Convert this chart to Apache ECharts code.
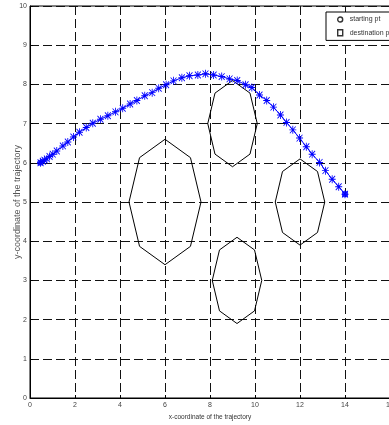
<!DOCTYPE html>
<html>
<head>
<meta charset="utf-8">
<script src="https://cdn.jsdelivr.net/npm/echarts@6/dist/echarts.min.js"></script>
<style>
  html, body { margin: 0; padding: 0; background: #fff; }
  #chart { width: 389px; height: 425px; }
</style>
</head>
<body>
<div id="chart"></div>
<script>
// Planned trajectory samples
const trajX = [0.47, 0.57, 0.64, 0.75, 0.87, 1.01, 1.19, 1.46, 1.68, 1.93,
  2.20, 2.50, 2.79, 3.13, 3.46, 3.80, 4.12, 4.45, 4.75, 5.10,
  5.43, 5.72, 6.05, 6.38, 6.75, 7.09, 7.46, 7.80, 8.16, 8.52,
  8.87, 9.21, 9.58, 9.86, 10.20, 10.52, 10.82, 11.13, 11.40, 11.68,
  11.98, 12.28, 12.54, 12.87, 13.13, 13.43, 13.72, 14.00];
const trajY = [6.00, 6.04, 6.07, 6.10, 6.16, 6.22, 6.30, 6.43, 6.53, 6.66,
  6.78, 6.90, 7.01, 7.11, 7.20, 7.30, 7.39, 7.50, 7.59, 7.71,
  7.79, 7.90, 7.99, 8.09, 8.17, 8.22, 8.24, 8.27, 8.24, 8.20,
  8.14, 8.10, 7.99, 7.92, 7.73, 7.59, 7.42, 7.22, 7.03, 6.84,
  6.63, 6.41, 6.22, 6.01, 5.80, 5.58, 5.39, 5.20];

// Start / goal points
const startPt = [0.45, 6.0];
const goalPt = [14.0, 5.2];

// Circular obstacles (drawn as 8-sided outlines)
const obsCX = [6, 9, 12, 9.2];
const obsCY = [5, 7, 5, 3];
const obsR = [1.6, 1.1, 1.1, 1.1];
const obsSides = 8;

// Axis ticks
const xTicks = { min: 0, max: 16, step: 2 };
const yTicks = { min: 0, max: 10, step: 1 };

const ASTERISK = 'path://M4.4,0H5.6V10H4.4Z M0,4.4H10V5.6H0Z M1.2,0.4L9.6,8.8L8.8,9.6L0.4,1.2Z M8.8,0.4L9.6,1.2L1.2,9.6L0.4,8.8Z';
const FONT = '"Liberation Sans Narrow", "Liberation Sans", Arial, sans-serif';

function obstaclePolygon(cx, cy, r) {
  const pts = [];
  for (let k = 0; k <= obsSides; k++) {
    const a = (2 * Math.PI * k) / obsSides;
    pts.push([cx + r * Math.cos(a), cy + r * Math.sin(a)]);
  }
  return pts;
}

const obstacleSeries = obsCX.map((cx, i) => ({
  type: 'line',
  name: 'obstacle' + i,
  data: obstaclePolygon(cx, obsCY[i], obsR[i]),
  showSymbol: false,
  symbol: 'none',
  lineStyle: { color: '#000', width: 1 },
  silent: true,
  animation: false,
  z: 2
}));

const dashed = { color: '#111', type: [9, 4], width: 1 };

const option = {
  animation: false,
  backgroundColor: '#fff',
  grid: {
    left: 30, top: 6, width: 360, height: 392,
    outerBoundsMode: 'none',
    containLabel: false,
    show: true, borderColor: '#000', borderWidth: 1, backgroundColor: 'transparent'
  },
  legend: {
    left: 326, top: 12,
    orient: 'vertical',
    itemWidth: 5, itemHeight: 6, itemGap: 6,
    padding: [4, 4, 4, 11],
    backgroundColor: '#fff',
    borderColor: '#000', borderWidth: 1,
    borderRadius: 0,
    textStyle: { fontSize: 7, color: '#333', fontFamily: FONT, padding: [0, 0, 0, 2] },
    data: [
      { name: 'starting pt', icon: 'circle', itemStyle: { color: '#fff', borderColor: '#000', borderWidth: 1.4 } },
      { name: 'destination pt', icon: 'rect', itemStyle: { color: '#fff', borderColor: '#000', borderWidth: 1.4 } }
    ]
  },
  xAxis: {
    type: 'value',
    min: xTicks.min, max: xTicks.max, interval: xTicks.step,
    name: 'x-coordinate of the trajectory',
    nameLocation: 'middle', nameGap: 15,
    nameTextStyle: { fontSize: 6.5, color: '#333', fontFamily: FONT },
    axisLine: { show: true, lineStyle: { color: '#000', width: 1 } },
    axisTick: { show: true, inside: true, length: 3, lineStyle: { color: '#000' } },
    axisLabel: { fontSize: 7, color: '#444', margin: 4, fontFamily: FONT },
    splitLine: { show: true, lineStyle: dashed }
  },
  yAxis: {
    type: 'value',
    min: yTicks.min, max: yTicks.max, interval: yTicks.step,
    name: 'y-coordinate of the trajectory',
    nameLocation: 'middle', nameGap: 8, nameRotate: 90,
    nameMoveOverlap: false,
    nameTextStyle: { fontSize: 9, color: '#555', fontFamily: '"Liberation Sans", Arial, sans-serif' },
    axisLine: { show: true, lineStyle: { color: '#000', width: 1 } },
    axisTick: { show: true, inside: true, length: 3, lineStyle: { color: '#000' } },
    axisLabel: { fontSize: 7, color: '#444', margin: 3, fontFamily: FONT },
    splitLine: { show: true, lineStyle: dashed }
  },
  series: [
    ...obstacleSeries,
    {
      type: 'line',
      name: 'trajectory',
      data: trajX.map((x, i) => [x, trajY[i]]),
      symbol: ASTERISK,
      symbolSize: [7, 8],
      showAllSymbol: true,
      lineStyle: { color: '#0000ff', width: 1 },
      itemStyle: { color: '#0000ff' },
      z: 3
    },
    {
      type: 'scatter',
      name: 'starting pt',
      data: [startPt],
      symbol: 'circle',
      symbolSize: 6,
      itemStyle: { color: '#0000ff' },
      z: 4
    },
    {
      type: 'scatter',
      name: 'destination pt',
      data: [goalPt],
      symbol: 'rect',
      symbolSize: 6,
      itemStyle: { color: '#0000ff' },
      z: 4
    }
  ]
};

const chart = echarts.init(document.getElementById('chart'), null, { renderer: 'canvas' });
chart.setOption(option);
</script>
</body>
</html>
